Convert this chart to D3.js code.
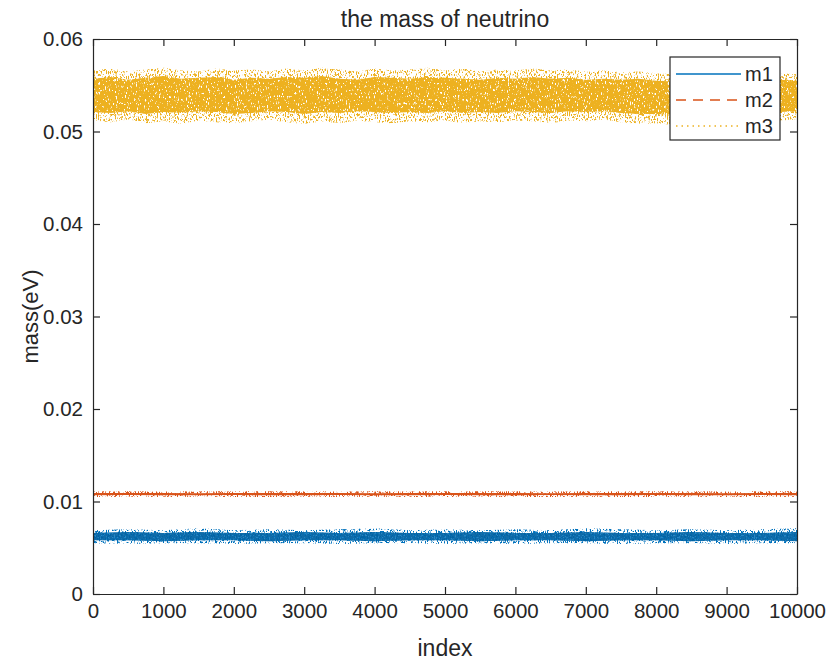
<!DOCTYPE html>
<html>
<head>
<meta charset="utf-8">
<script src="https://cdn.jsdelivr.net/npm/d3@7"></script>
<style>
  body { margin: 0; background: #fff; }
  text { font-family: "Liberation Sans", Arial, sans-serif; fill: #262626; }
</style>
</head>
<body>
<div id="chart-area"></div>
<script>
var idx3 = [0, 250, 500, 750, 1000, 1250, 1500, 1750, 2000, 2250, 2500, 2750, 3000, 3250, 3500, 3750, 4000, 4250, 4500, 4750,
    5000, 5250, 5500, 5750, 6000, 6250, 6500, 6750, 7000, 7250, 7500, 7750, 8000, 8250, 8500, 8750, 9000, 9250, 9500, 9750, 10000];
var idx12 = [0, 500, 1000, 1500, 2000, 2500, 3000, 3500, 4000, 4500, 5000, 5500, 6000, 6500, 7000, 7500, 8000, 8500, 9000, 9500, 10000];

// m3 (outer spread and dense core)
var m3Hi = [0.0566, 0.0568, 0.0565, 0.0567, 0.0569, 0.0566, 0.0565, 0.0568, 0.0566, 0.0567, 0.0565, 0.0568, 0.0566, 0.0569, 0.0567, 0.0565, 0.0568, 0.0566, 0.0567, 0.0569,
    0.0566, 0.0568, 0.0565, 0.0567, 0.0566, 0.0568, 0.0566, 0.0567, 0.0565, 0.0566, 0.0564, 0.0565, 0.0563, 0.0562, 0.0561, 0.0562, 0.0560, 0.0561, 0.0562, 0.0563, 0.0562];
var m3CoreHi = [0.0557, 0.0559, 0.0556, 0.0558, 0.0560, 0.0557, 0.0558, 0.0559, 0.0556, 0.0558, 0.0557, 0.0559, 0.0558, 0.0560, 0.0557, 0.0556, 0.0559, 0.0558, 0.0557, 0.0559,
    0.0558, 0.0557, 0.0556, 0.0558, 0.0557, 0.0559, 0.0557, 0.0558, 0.0556, 0.0557, 0.0556, 0.0557, 0.0555, 0.0554, 0.0553, 0.0554, 0.0553, 0.0554, 0.0555, 0.0556, 0.0555];
var m3CoreLo = [0.0521, 0.0520, 0.0522, 0.0519, 0.0521, 0.0520, 0.0522, 0.0521, 0.0519, 0.0520, 0.0522, 0.0521, 0.0519, 0.0521, 0.0520, 0.0522, 0.0521, 0.0520, 0.0521, 0.0520,
    0.0522, 0.0520, 0.0521, 0.0520, 0.0522, 0.0521, 0.0520, 0.0522, 0.0521, 0.0522, 0.0520, 0.0519, 0.0519, 0.0518, 0.0518, 0.0517, 0.0518, 0.0519, 0.0520, 0.0521, 0.0522];
var m3Lo = [0.0512, 0.0510, 0.0513, 0.0509, 0.0511, 0.0508, 0.0512, 0.0510, 0.0509, 0.0511, 0.0513, 0.0510, 0.0508, 0.0511, 0.0509, 0.0512, 0.0510, 0.0509, 0.0511, 0.0510,
    0.0512, 0.0509, 0.0511, 0.0510, 0.0512, 0.0511, 0.0509, 0.0512, 0.0511, 0.0513, 0.0510, 0.0508, 0.0509, 0.0507, 0.0508, 0.0506, 0.0507, 0.0509, 0.0510, 0.0512, 0.0513];

// m2
var m2Hi = [0.01110, 0.01112, 0.01109, 0.01111, 0.01110, 0.01112, 0.01110, 0.01109, 0.01111, 0.01110, 0.01112, 0.01110, 0.01111, 0.01109, 0.01110, 0.01112, 0.01110, 0.01111, 0.01109, 0.01110, 0.01111];
var m2CoreHi = [0.01091, 0.01092, 0.01091, 0.01090, 0.01091, 0.01092, 0.01091, 0.01091, 0.01090, 0.01091, 0.01092, 0.01091, 0.01091, 0.01090, 0.01091, 0.01092, 0.01091, 0.01091, 0.01090, 0.01091, 0.01092];
var m2CoreLo = [0.01068, 0.01069, 0.01067, 0.01068, 0.01069, 0.01068, 0.01067, 0.01069, 0.01068, 0.01068, 0.01069, 0.01067, 0.01068, 0.01069, 0.01068, 0.01067, 0.01069, 0.01068, 0.01068, 0.01069, 0.01068];
var m2Lo = [0.01050, 0.01052, 0.01049, 0.01051, 0.01050, 0.01048, 0.01051, 0.01050, 0.01052, 0.01049, 0.01050, 0.01051, 0.01049, 0.01050, 0.01052, 0.01050, 0.01049, 0.01051, 0.01050, 0.01049, 0.01051];

// m1
var m1Hi = [0.0069, 0.0070, 0.0069, 0.0071, 0.0069, 0.0070, 0.0069, 0.0070, 0.0071, 0.0069, 0.0070, 0.0069, 0.0070, 0.0069, 0.0071, 0.0070, 0.0069, 0.0070, 0.0069, 0.0070, 0.0071];
var m1CoreHi = [0.0066, 0.0067, 0.0066, 0.0067, 0.0066, 0.0066, 0.0067, 0.0066, 0.0067, 0.0066, 0.0066, 0.0067, 0.0066, 0.0066, 0.0067, 0.0066, 0.0066, 0.0067, 0.0066, 0.0066, 0.0067];
var m1CoreLo = [0.0058, 0.0058, 0.0057, 0.0058, 0.0058, 0.0057, 0.0058, 0.0058, 0.0057, 0.0058, 0.0058, 0.0057, 0.0058, 0.0058, 0.0057, 0.0058, 0.0058, 0.0057, 0.0058, 0.0058, 0.0057];
var m1Lo = [0.0055, 0.0054, 0.0055, 0.0055, 0.0054, 0.0055, 0.0055, 0.0054, 0.0055, 0.0055, 0.0054, 0.0055, 0.0054, 0.0055, 0.0055, 0.0054, 0.0055, 0.0055, 0.0054, 0.0055, 0.0055];

var xTicks = [0, 1000, 2000, 3000, 4000, 5000, 6000, 7000, 8000, 9000, 10000];
var yTicks = [0, 0.01, 0.02, 0.03, 0.04, 0.05, 0.06];
var seriesNames = ["m1", "m2", "m3"];
var colors = ["#0072BD", "#D95319", "#EDB120"];

var margin = { left: 93, right: 31, top: 39, bottom: 66 };
var width = 828 - margin.left - margin.right;
var height = 660 - margin.top - margin.bottom;

var svg = d3.select("#chart-area")
    .append("svg")
    .attr("width", 828)
    .attr("height", 660);

// speckle filters give the bands the look of dense noisy traces
var defs = svg.append("defs");
function speckle(id, freq, seed, slope, offset) {
    var f = defs.append("filter")
        .attr("id", id)
        .attr("x", 0).attr("y", 0).attr("width", 1).attr("height", 1)
        .attr("color-interpolation-filters", "sRGB");
    f.append("feTurbulence")
        .attr("type", "fractalNoise")
        .attr("baseFrequency", freq)
        .attr("numOctaves", 2)
        .attr("seed", seed)
        .attr("result", "n");
    f.append("feColorMatrix")
        .attr("in", "n")
        .attr("type", "matrix")
        .attr("values", "0 0 0 0 0  0 0 0 0 0  0 0 0 0 0  " + slope + " 0 0 0 " + offset)
        .attr("result", "m");
    f.append("feComposite")
        .attr("in", "SourceGraphic")
        .attr("in2", "m")
        .attr("operator", "in");
}
speckle("coreSpk", "0.9 0.3", 7, 9, -2.7);
speckle("outerSpk", "0.9 0.4", 3, 9, -4.7);
speckle("lineSpk", "0.8 0.5", 11, 8, -2.6);

var g = svg.append("g")
    .attr("transform", "translate(" + margin.left + ", " + margin.top + ")");

// Scales
var x = d3.scaleLinear()
    .domain([0, 10000])
    .range([0, width]);

var y = d3.scaleLinear()
    .domain([0, 0.06])
    .range([height, 0]);

function band(idx, lo, hi) {
    var pts = idx.map(function(d, i) { return { i: d, lo: lo[i], hi: hi[i] }; });
    return d3.area()
        .x(function(d) { return x(d.i); })
        .y0(function(d) { return y(d.lo); })
        .y1(function(d) { return y(d.hi); })(pts);
}

var plot = g.append("g");

// m1
plot.append("path").attr("d", band(idx12, m1Lo, m1Hi))
    .attr("fill", colors[0]).attr("filter", "url(#outerSpk)");
plot.append("path").attr("d", band(idx12, m1CoreLo, m1CoreHi))
    .attr("fill", colors[0]).attr("opacity", 0.85);
plot.append("path").attr("d", band(idx12, m1CoreLo, m1CoreHi))
    .attr("fill", "#005a96").attr("filter", "url(#lineSpk)").attr("opacity", 0.6);

// m2
plot.append("path").attr("d", band(idx12, m2Lo, m2Hi))
    .attr("fill", colors[1]).attr("filter", "url(#outerSpk)");
plot.append("path").attr("d", band(idx12, m2CoreLo, m2CoreHi))
    .attr("fill", colors[1]);

// m3
plot.append("path").attr("d", band(idx3, m3Lo, m3Hi))
    .attr("fill", colors[2]).attr("filter", "url(#outerSpk)");
plot.append("path").attr("d", band(idx3, m3CoreLo, m3CoreHi))
    .attr("fill", colors[2]).attr("filter", "url(#coreSpk)");

// Axes (box with inward ticks, like matlab)
var axisColor = "#262626";
var xAxisGroup = g.append("g")
    .attr("transform", "translate(0, " + height + ")")
    .call(d3.axisBottom(x).tickValues(xTicks).tickSizeInner(-7).tickSizeOuter(0).tickPadding(9)
        .tickFormat(d3.format("d")));
var xTop = g.append("g")
    .call(d3.axisTop(x).tickValues(xTicks).tickSizeInner(-7).tickSizeOuter(0).tickFormat(""));
var yAxisGroup = g.append("g")
    .call(d3.axisLeft(y).tickValues(yTicks).tickSizeInner(-7).tickSizeOuter(0).tickPadding(10)
        .tickFormat(function(d) { return d === 0 ? "0" : d3.format(".2f")(d); }));
var yRight = g.append("g")
    .attr("transform", "translate(" + width + ", 0)")
    .call(d3.axisRight(y).tickValues(yTicks).tickSizeInner(-7).tickSizeOuter(0).tickFormat(""));

g.selectAll(".domain").attr("stroke", axisColor).attr("stroke-width", 1.2);
g.selectAll(".tick line").attr("stroke", axisColor).attr("stroke-width", 1.2);
g.selectAll(".tick text").attr("font-size", 20.5).attr("fill", axisColor)
    .style("font-family", "'Liberation Sans', Arial, sans-serif");

// Legend
var leg = g.append("g").attr("transform", "translate(" + (670 - margin.left) + ", " + (57 - margin.top) + ")");
leg.append("rect")
    .attr("width", 110).attr("height", 83)
    .attr("fill", "#fff").attr("stroke", axisColor).attr("stroke-width", 1.2);
var dashes = [null, "10,7", "1.5,4"];
seriesNames.forEach(function(name, i) {
    var ly = 17 + i * 26;
    leg.append("line")
        .attr("x1", 6).attr("x2", 71).attr("y1", ly).attr("y2", ly)
        .attr("stroke", colors[i]).attr("stroke-width", 1.6)
        .attr("stroke-dasharray", dashes[i]);
    leg.append("text")
        .attr("x", 75).attr("y", ly + 7)
        .attr("font-size", 20)
        .text(name);
});

// Title and labels
svg.append("text")
    .attr("x", margin.left + width / 2).attr("y", 27)
    .attr("text-anchor", "middle").attr("font-size", 23)
    .text("the mass of neutrino");
svg.append("text")
    .attr("x", margin.left + width / 2).attr("y", 656)
    .attr("text-anchor", "middle").attr("font-size", 23)
    .text("index");
svg.append("text")
    .attr("transform", "translate(38, " + (margin.top + height / 2) + ") rotate(-90)")
    .attr("text-anchor", "middle").attr("font-size", 22)
    .text("mass(eV)");
</script>
</body>
</html>
